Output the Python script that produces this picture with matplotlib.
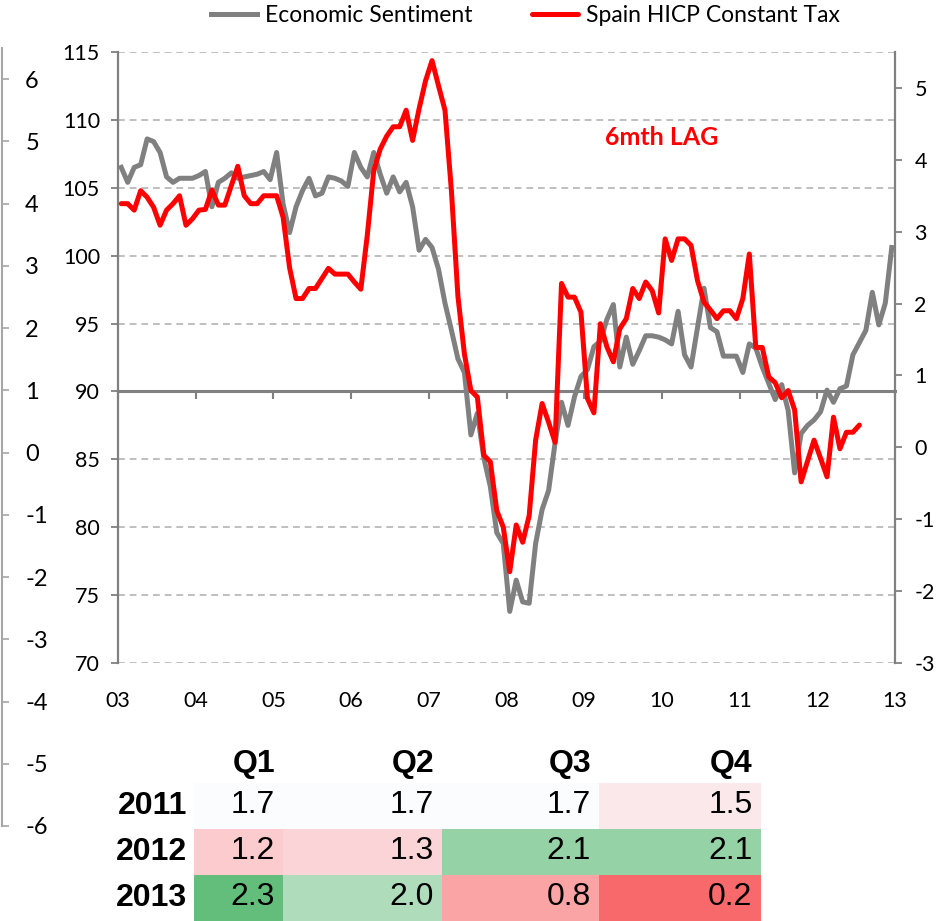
import numpy as np
import matplotlib
matplotlib.use("Agg")
import matplotlib.pyplot as plt
from matplotlib.colors import LinearSegmentedColormap, TwoSlopeNorm

plt.rcParams['font.family'] = ['Lato', 'DejaVu Sans']
plt.rcParams['axes.unicode_minus'] = False

# monthly economic sentiment, Jan 2003 - Dec 2012 (left axis)
sentiment = [
    106.5, 105.4, 106.5, 106.7, 108.6, 108.4, 107.6, 105.8, 105.4, 105.7,
    105.7, 105.7, 105.9, 106.2, 103.6, 105.4, 105.7, 106.1, 105.7, 105.8,
    105.9, 106.0, 106.2, 105.6, 107.6, 103.8, 101.7, 103.6, 104.8, 105.7,
    104.4, 104.6, 105.8, 105.7, 105.5, 105.1, 107.6, 106.5, 105.8, 107.6,
    106.0, 104.6, 105.8, 104.7, 105.4, 103.6, 100.4, 101.2, 100.6, 99.0,
    96.5, 94.5, 92.4, 91.4, 86.8, 88.4, 85.1, 83.0, 79.6, 78.8,
    73.8, 76.1, 74.5, 74.4, 78.8, 81.3, 82.7, 86.2, 89.2, 87.5,
    89.6, 91.1, 91.6, 93.3, 93.7, 95.3, 96.4, 91.8, 94.0, 92.0,
    93.0, 94.1, 94.1, 94.0, 93.8, 93.5, 95.9, 92.7, 91.8, 94.7,
    97.6, 94.7, 94.4, 92.6, 92.6, 92.6, 91.4, 93.5, 93.2, 91.8,
    90.6, 89.4, 90.5, 88.6, 84.0, 86.9, 87.5, 87.9, 88.5, 90.1,
    89.2, 90.2, 90.4, 92.7, 93.6, 94.5, 97.3, 94.9, 96.5, 100.6,
]

# Spain HICP constant tax, shifted 6 months (right axis)
hicp = [
    3.39, 3.39, 3.30, 3.57, 3.48, 3.34, 3.09, 3.30, 3.39, 3.50,
    3.09, 3.18, 3.30, 3.31, 3.58, 3.37, 3.37, 3.64, 3.91, 3.50,
    3.39, 3.39, 3.50, 3.50, 3.50, 3.20, 2.50, 2.07, 2.07, 2.21,
    2.21, 2.35, 2.49, 2.41, 2.41, 2.41, 2.30, 2.20, 2.95, 3.85,
    4.15, 4.33, 4.46, 4.46, 4.69, 4.27, 4.71, 5.10, 5.38, 5.03,
    4.69, 3.56, 2.10, 1.30, 0.79, 0.70, -0.11, -0.20, -0.88, -1.11,
    -1.73, -1.08, -1.32, -0.95, 0.10, 0.61, 0.35, 0.07, 2.28, 2.09,
    2.09, 1.88, 0.68, 0.48, 1.72, 1.40, 1.19, 1.65, 1.79, 2.21,
    2.07, 2.30, 2.18, 1.87, 2.90, 2.60, 2.90, 2.90, 2.81, 2.32,
    2.02, 1.91, 1.79, 1.90, 1.90, 1.79, 2.07, 2.69, 1.39, 1.39,
    0.98, 0.90, 0.69, 0.79, 0.52, -0.48, -0.19, 0.10, -0.15, -0.41,
    0.42, -0.02, 0.21, 0.21, 0.31,
]

years = list(range(2003, 2014))
year_labels = ['03', '04', '05', '06', '07', '08', '09', '10', '11', '12', '13']

quarters = ['Q1', 'Q2', 'Q3', 'Q4']
table_years = ['2011', '2012', '2013']
table_vals = [
    [1.7, 1.7, 1.7, 1.5],
    [1.2, 1.3, 2.1, 2.1],
    [2.3, 2.0, 0.8, 0.2],
]

GRAY = '#808080'
RED = '#FF0000'
W, H = 947, 921


def px_rect(x0, y0, x1, y1):
    return [x0 / W, 1 - y1 / H, (x1 - x0) / W, (y1 - y0) / H]


fig = plt.figure(figsize=(W / 100, H / 100), dpi=100)

# stray axis at far left
ax0 = fig.add_axes(px_rect(1.5, 48, 1.6, 826))
ax0.patch.set_visible(False)
ax0.set_ylim(-6, 6.5)
ax0.set_yticks(range(-6, 7))
ax0.yaxis.tick_right()
ax0.set_xticks([])
for s in ['left', 'top', 'bottom']:
    ax0.spines[s].set_visible(False)
ax0.spines['right'].set_color('#A6A6A6')
ax0.spines['right'].set_linewidth(1.5)
ax0.tick_params(axis='y', direction='out', length=5, width=1.2, color='#A6A6A6',
                labelsize=17, pad=12)

# main chart
ax1 = fig.add_axes(px_rect(118, 52, 895, 663))
ax2 = ax1.twinx()

x_s = 2003 + (np.arange(len(sentiment)) + 0.5) / 12
x_h = 2003 + (np.arange(len(hicp)) + 0.5) / 12

l1, = ax1.plot(x_s, sentiment, color=GRAY, lw=3.6, solid_joinstyle='round',
               label='Economic Sentiment')
l2, = ax2.plot(x_h, hicp, color=RED, lw=3.6, solid_joinstyle='round',
               solid_capstyle='round', label='Spain HICP Constant Tax')

ax1.set_xlim(2003, 2013)
ax1.set_ylim(70, 115)
ax1.set_yticks(range(70, 116, 5))
ax2.set_ylim(-3, 5.5)
ax2.set_yticks(range(-3, 6))

ax1.grid(axis='y', color='#BFBFBF', lw=1.4, linestyle=(0, (3.5, 2.5)))
ax1.set_axisbelow(True)

for s in ['top', 'right']:
    ax1.spines[s].set_visible(False)
for s in ['top', 'left', 'bottom']:
    ax2.spines[s].set_visible(False)
ax1.spines['left'].set_color(GRAY)
ax1.spines['left'].set_linewidth(1.6)
ax2.spines['right'].set_color(GRAY)
ax2.spines['right'].set_linewidth(1.6)
ax1.spines['bottom'].set_position(('data', 90))
ax1.spines['bottom'].set_color(GRAY)
ax1.spines['bottom'].set_linewidth(2.2)

ax1.set_xticks(years)
ax1.tick_params(axis='x', direction='out', length=6, width=1.5, color=GRAY,
                labelbottom=False)
ax1.tick_params(axis='y', direction='out', length=5, width=1.3, color=GRAY,
                labelsize=15.5, pad=8)
ax2.tick_params(axis='y', direction='out', length=5, width=1.3, color=GRAY,
                labelsize=15.5, pad=9)

sec = ax1.secondary_xaxis('bottom')
sec.set_xticks(years, labels=year_labels)
sec.spines['bottom'].set_visible(False)
sec.tick_params(axis='x', length=0, labelsize=15.5, pad=20)

ax1.text(2010.0, 108.7, '6mth LAG', color=RED, fontsize=18, fontweight='bold',
         ha='center', va='center')

fig.legend(handles=[l1, l2], loc='center', bbox_to_anchor=(0.555, 1 - 16 / H),
           ncol=2, frameon=False, fontsize=16.5, handlelength=2.0,
           handletextpad=0.35, columnspacing=2.6)

# quarterly table with colour scale
vals = np.array(table_vals)
cmap = LinearSegmentedColormap.from_list('rwg', ['#F8696B', '#FCFCFF', '#63BE7B'])
norm = TwoSlopeNorm(vmin=vals.min(), vcenter=np.median(vals), vmax=vals.max())

col_edges = [0, 89, 248, 405, 566.5]
axt = fig.add_axes(px_rect(194, 783, 760.5, 921))
axt.pcolormesh(col_edges, np.arange(len(table_years) + 1), vals, cmap=cmap, norm=norm)
axt.set_xlim(0, col_edges[-1])
axt.set_ylim(len(table_years), 0)
axt.axis('off')

tfont = ['Liberation Sans', 'DejaVu Sans']
for j, q in enumerate(quarters):
    axt.text(col_edges[j + 1] - 8, -0.41, q, ha='right', va='center',
             fontsize=23, fontweight='bold', family=tfont, clip_on=False)
for i, yr in enumerate(table_years):
    axt.text(-7, i + 0.5, yr, ha='right', va='center', fontsize=23,
             fontweight='bold', family=tfont, clip_on=False)
    for j in range(len(quarters)):
        axt.text(col_edges[j + 1] - 8, i + 0.47, f'{vals[i, j]:.1f}', ha='right',
                 va='center', fontsize=23, family=tfont)

fig.savefig('out.png', dpi=100)
